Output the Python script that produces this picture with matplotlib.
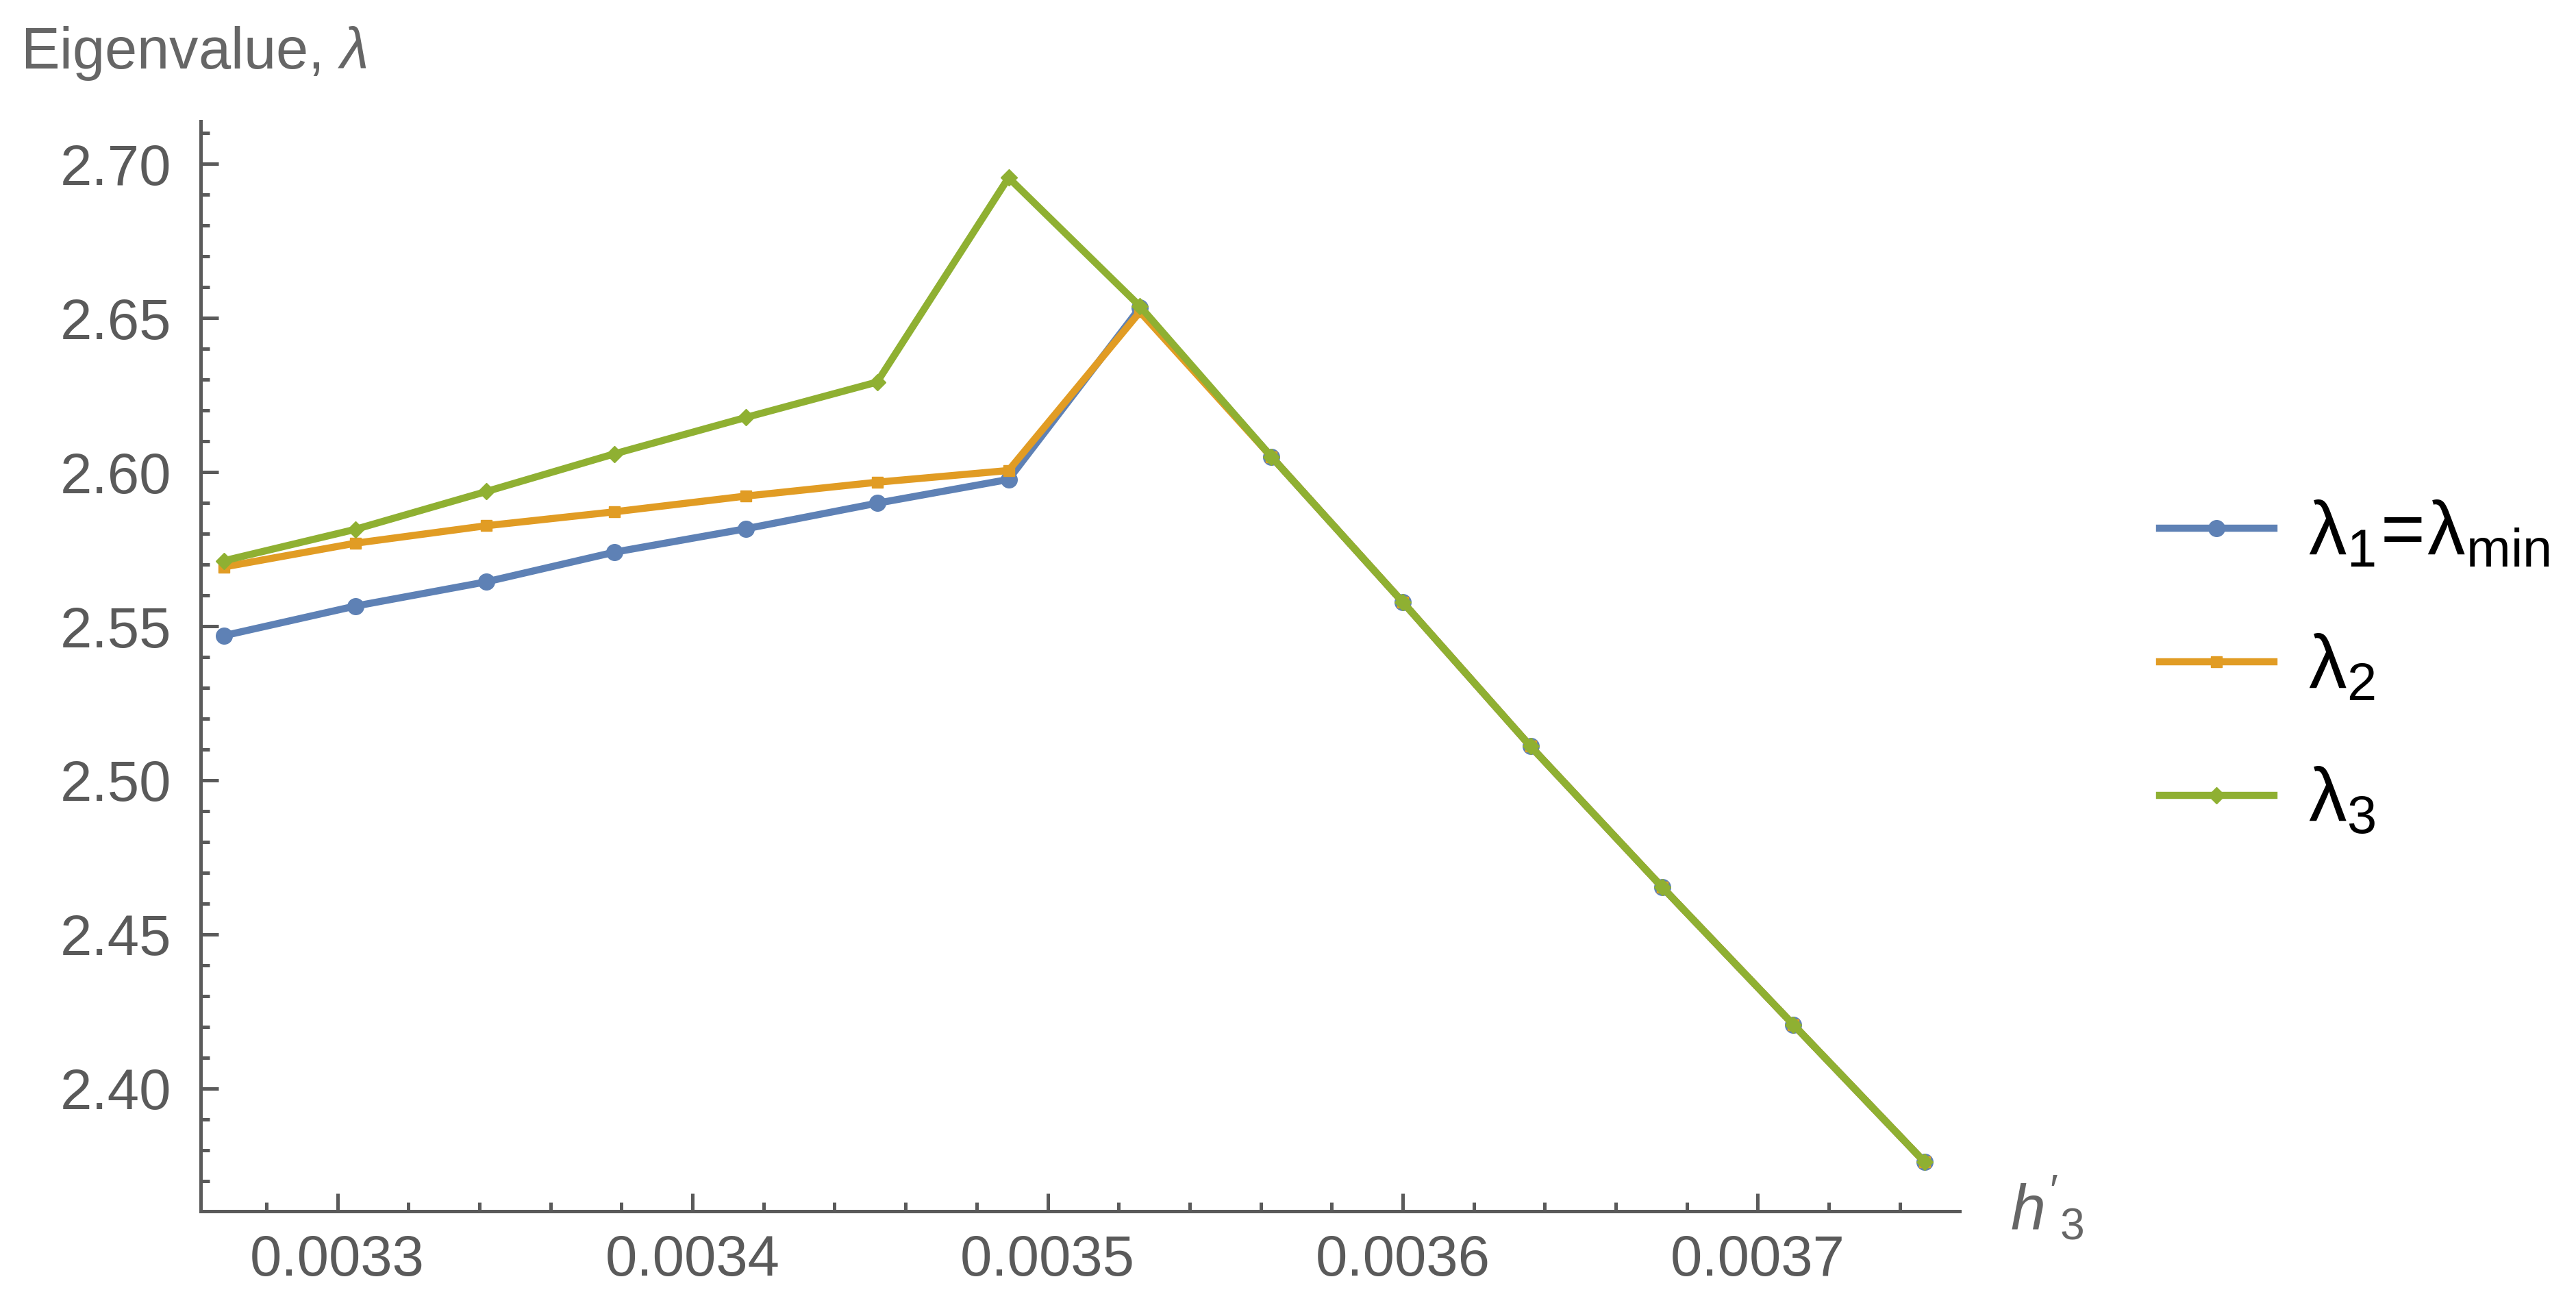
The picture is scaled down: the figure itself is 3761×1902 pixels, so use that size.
import matplotlib
matplotlib.use("Agg")
import matplotlib.pyplot as plt
from matplotlib.ticker import MultipleLocator, FormatStrFormatter

plt.rcParams['font.family'] = ['Liberation Sans', 'DejaVu Sans']
plt.rcParams['mathtext.fontset'] = 'custom'
plt.rcParams['mathtext.rm'] = 'Liberation Sans'
plt.rcParams['mathtext.it'] = 'Liberation Sans:italic'

# data
h3 = [0.003268, 0.003305, 0.003342, 0.003378, 0.003415, 0.003452, 0.003489,
      0.003526, 0.003563, 0.003600, 0.003636, 0.003673, 0.003710, 0.003747]
lam1 = [2.5469, 2.5565, 2.5644, 2.5740, 2.5816, 2.5899, 2.5976,
        2.6533, 2.6050, 2.5578, 2.5110, 2.4654, 2.4207, 2.3761]
lam2 = [2.5692, 2.5769, 2.5826, 2.5871, 2.5922, 2.5967, 2.6005,
        2.6520, 2.6050, 2.5578, 2.5110, 2.4654, 2.4207, 2.3761]
lam3 = [2.5712, 2.5814, 2.5937, 2.6059, 2.6177, 2.6292, 2.6955,
        2.6538, 2.6050, 2.5578, 2.5110, 2.4654, 2.4207, 2.3761]
labels = [r'$\mathrm{\lambda_1\!=\!\lambda_{min}}$',
          r'$\mathrm{\lambda_2}$', r'$\mathrm{\lambda_3}$']
colors = ['#5E81B5', '#E19C24', '#8FB032']
axis_gray = '#5a5a5a'

fig = plt.figure(figsize=(37.61, 19.02), dpi=100)
ax = fig.add_axes([0.0779, 0.0705, 0.6828, 0.8364])

series = [lam1, lam2, lam3]
markers = ['o', 's', 'D']
msizes = [17, 12, 12]
for ys, c, m, ms, lab in zip(series, colors, markers, msizes, labels):
    ax.plot(h3, ys, color=c, lw=7.5, marker=m, markersize=ms,
            markerfacecolor=c, markeredgecolor=c, label=lab, clip_on=False)

ax.set_xlim(0.0032615, 0.0037568)
ax.set_ylim(2.3602, 2.7138)

ax.xaxis.set_major_locator(MultipleLocator(0.0001))
ax.xaxis.set_minor_locator(MultipleLocator(0.00002))
ax.yaxis.set_major_locator(MultipleLocator(0.05))
ax.yaxis.set_minor_locator(MultipleLocator(0.01))
ax.xaxis.set_major_formatter(FormatStrFormatter('%.4f'))
ax.yaxis.set_major_formatter(FormatStrFormatter('%.2f'))

for s in ['top', 'right']:
    ax.spines[s].set_visible(False)
for s in ['left', 'bottom']:
    ax.spines[s].set_color(axis_gray)
    ax.spines[s].set_linewidth(3.6)

ax.tick_params(which='both', direction='in', color=axis_gray, width=3.6,
               labelcolor=axis_gray, labelsize=60)
ax.tick_params(which='major', length=19)
ax.tick_params(which='minor', length=9.5)
ax.tick_params(axis='y', pad=31)
ax.tick_params(axis='x', pad=24)

# axis labels placed like the original (top-left and right end of x axis)
fig.text(30 / 3761, 1 - 100 / 1902, r'Eigenvalue, $\lambda$', color='#666666',
         fontsize=61, ha='left', va='baseline')
fig.text(2935 / 3761, 1 - 1795 / 1902, r"$h'_3$", color='#666666',
         fontsize=66, ha='left', va='baseline')

leg = ax.legend(loc='center left', bbox_to_anchor=(3153 / 3761, 1 - 976 / 1902),
                bbox_transform=fig.transFigure, frameon=False, fontsize=80,
                handlelength=1.5, handletextpad=0.45, labelspacing=0.82,
                borderpad=0, borderaxespad=0)
for t in leg.get_texts():
    t.set_color('black')

fig.savefig('out.png', dpi=100)
